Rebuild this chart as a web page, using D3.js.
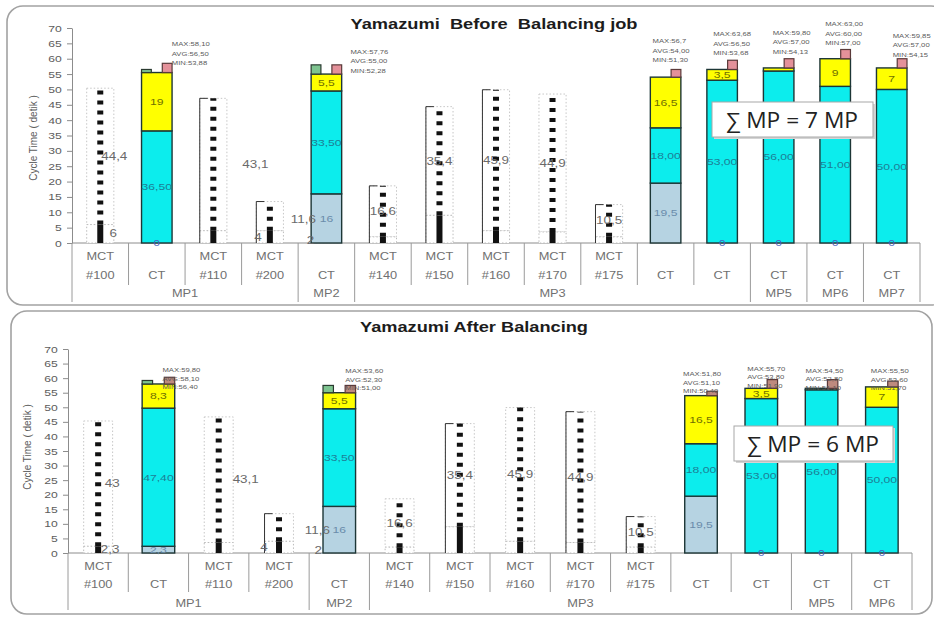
<!DOCTYPE html>
<html>
<head>
<meta charset="utf-8">
<script src="https://cdn.jsdelivr.net/npm/d3@7"></script>
<style>
  body { margin: 0; background: #fff; }
  svg { display: block; }
</style>
</head>
<body>
<svg id="chart" width="934" height="617"></svg>
<script>
// ---------- Before balancing ----------
const beforeTitle = "Yamazumi  Before  Balancing job";
const beforeRow1 = ["MCT", "", "MCT", "MCT", "", "MCT", "MCT", "MCT", "MCT", "MCT", "", "", "", "", ""];
const beforeRow2 = ["#100", "CT", "#110", "#200", "CT", "#140", "#150", "#160", "#170", "#175", "CT", "CT", "CT", "CT", "CT"];
const beforeGroups = ["MP1", "MP2", "MP3", "MP5", "MP6", "MP7"];
const beforeGroupSpans = [4, 1, 7, 1, 1, 1];
const beforeMctLow  = [6, 0, 4, 4, 2, 2, 9, 4, 3.6, 2, 0, 0, 0, 0, 0];
const beforeMctHigh = [44.4, 0, 43.1, 9.5, 11.6, 16.6, 35.4, 45.9, 44.9, 10.5, 0, 0, 0, 0, 0];
const beforeCtBase  = [0, 0, 0, 0, 16, 0, 0, 0, 0, 0, 19.5, 0, 0, 0, 0];
const beforeCtMain  = [0, 36.5, 0, 0, 33.5, 0, 0, 0, 0, 0, 18, 53, 56, 51, 50];
const beforeCtExtra = [0, 19, 0, 0, 5.5, 0, 0, 0, 0, 0, 16.5, 3.5, 1, 9, 7];
const beforeCapGreen = [0, 1, 0, 0, 3, 0, 0, 0, 0, 0, 0, 0, 0, 0, 0];
const beforeCapPink  = [0, 3, 0, 0, 3, 0, 0, 0, 0, 0, 2.5, 3, 3, 3, 3];
const beforeNotes = [null, ["MAX:58,10", "AVG:56,50", "MIN:53,88"], null, null,
  ["MAX:57,76", "AVG:55,00", "MIN:52,28"], null, null, null, null, null,
  ["MAX:56,7", "AVG:54,00", "MIN:51,30"], ["MAX:63,68", "AVG:56,50", "MIN:53,68"],
  ["MAX:59,80", "AVG:57,00", "MIN:54,13"], ["MAX:63,00", "AVG:60,00", "MIN:57,00"],
  ["MAX:59,85", "AVG:57,00", "MIN:54,15"]];
const beforeTotal = "∑ MP = 7 MP";

// ---------- After balancing ----------
const afterTitle = "Yamazumi After Balancing";
const afterRow1 = ["MCT", "", "MCT", "MCT", "", "MCT", "MCT", "MCT", "MCT", "MCT", "", "", "", ""];
const afterRow2 = ["#100", "CT", "#110", "#200", "CT", "#140", "#150", "#160", "#170", "#175", "CT", "CT", "CT", "CT"];
const afterGroups = ["MP1", "MP2", "MP3", "MP5", "MP6"];
const afterGroupSpans = [4, 1, 7, 1, 1];
const afterMctLow  = [2.3, 0, 3.6, 4, 2, 2, 9, 4, 3.6, 2, 0, 0, 0, 0];
const afterMctHigh = [43, 0, 43.1, 9.5, 11.6, 16.6, 35.4, 45.9, 44.9, 10.5, 0, 0, 0, 0];
const afterCtBase  = [0, 2.3, 0, 0, 16, 0, 0, 0, 0, 0, 19.5, 0, 0, 0];
const afterCtMain  = [0, 47.4, 0, 0, 33.5, 0, 0, 0, 0, 0, 18, 53, 56, 50];
const afterCtExtra = [0, 8.3, 0, 0, 5.5, 0, 0, 0, 0, 0, 16.5, 3.5, 0.5, 7];
const afterCapGreen = [0, 1.2, 0, 0, 2.5, 0, 0, 0, 0, 0, 0, 0, 0, 0];
const afterCapPink  = [0, 2.3, 0, 0, 2.5, 0, 0, 0, 0, 0, 1.5, 3, 3, 2];
const afterNotes = [null, ["MAX:59,80", "AVG:58,10", "MIN:56,40"], null, null,
  ["MAX:53,60", "AVG:52,30", "MIN:51,00"], null, null, null, null, null,
  ["MAX:51,80", "AVG:51,10", "MIN:50,40"], ["MAX:55,70", "AVG:53,80", "MIN:51,90"],
  ["MAX:54,50", "AVG:52,80", "MIN:51,10"], ["MAX:55,50", "AVG:53,60", "MIN:51,70"]];
const afterTotal = "∑ MP = 6 MP";

// ---------- layout (pixels) ----------
const beforeLayout = {
  frame: [7, 6, 940, 299], xRange: [72, 920], yRange: [243, 28],
  titlePos: [494, 29], titleWidth: 287, axisTitle: [33, 138],
  rows: [256, 275, 293], catEnd: 285, groupEnd: 302,
  lowDx:  [13, null, null, -12, -16, null, null, null, null, null, null, null, null, null, null],
  highDx: [14, null, 42, null, -23, 0, 0, 0, 0, 0, null, null, null, null, null],
  edge:   [0, 0, 1, 1, 0, 1, 1, 1, 0, 1, 0, 0, 0, 0, 0],
  noteOff: [null, [15, 2], null, null, [24, 8], null, null, null, null, null, [-13, -7], [-9, -5], [-6, -5], [-10, -4.5], [1, -2]],
  noteGap: 9.5, pink: "#E4919A", box: [712, 102, 161, 35], boxText: [792, 128]
};
const afterLayout = {
  frame: [11, 311, 921, 303], xRange: [68, 912], yRange: [553, 349],
  titlePos: [474, 332], titleWidth: 228, axisTitle: [27, 447],
  rows: [566, 584, 603], catEnd: 592, groupEnd: 610,
  lowDx:  [12, null, null, -15, -21, null, null, null, null, null, null, null, null, null],
  highDx: [14, null, 27, null, -22, 0, 0, 0, 0, 0, null, null, null, null],
  edge:   [0, 0, 0, 1, 0, 0, 1, 0, 1, 1, 0, 0, 0, 0],
  noteOff: [null, [4, 12], null, null, [6, 5], null, null, null, null, null, [-18, 2], [-14, 8], [-16, 10], [-11, 9]],
  noteGap: 8.5, pink: "#BE8A7E", box: [734, 426, 159, 35], boxText: [813, 452]
};

const SX = 1.28;  // horizontal stretch applied to the text glyphs
const FONT = "'Liberation Sans', Arial, sans-serif";
const svg = d3.select("#chart");
const comma = v => String(v).replace(".", ",");
const comma2 = v => d3.format(".2f")(v).replace(".", ",");

function put(g, x, y, str, o = {}) {
  return g.append("text")
    .attr("transform", `translate(${x},${y}) scale(${SX},1)`)
    .attr("text-anchor", o.anchor || "middle")
    .attr("dy", o.dy == null ? "0.35em" : o.dy)
    .attr("font-family", FONT)
    .attr("font-size", o.size || 10)
    .attr("fill", o.fill || "#676767")
    .text(str);
}

function drawPanel(p, L) {
  const n = p.row2.length;
  const x = d3.scaleBand().domain(d3.range(n)).range(L.xRange);
  const y = d3.scaleLinear().domain([0, 70]).range(L.yRange);
  const bw = x.bandwidth();
  const cx = i => x(i) + bw / 2;
  const ex = i => (i < n ? x(i) : L.xRange[1]);
  const g = svg.append("g");

  // rounded frame
  g.append("rect").attr("x", L.frame[0]).attr("y", L.frame[1])
    .attr("width", L.frame[2]).attr("height", L.frame[3]).attr("rx", 16)
    .attr("fill", "#fff").attr("stroke", "#a2a2a2").attr("stroke-width", 1.6);

  // title
  g.append("text").attr("x", L.titlePos[0]).attr("y", L.titlePos[1])
    .attr("text-anchor", "middle").attr("font-family", FONT).attr("font-weight", "bold")
    .attr("font-size", 14).attr("fill", "#1c1c1c")
    .attr("textLength", L.titleWidth).attr("lengthAdjust", "spacingAndGlyphs")
    .style("white-space", "pre").text(p.title);

  // y axis
  const ag = g.append("g").attr("transform", `translate(${L.xRange[0]},0)`)
    .call(d3.axisLeft(y).tickValues(d3.range(0, 71, 5)).tickSize(5).tickSizeOuter(0).tickPadding(3));
  ag.select(".domain").attr("stroke", "#8c8c8c");
  ag.selectAll(".tick line").attr("stroke", "#8c8c8c");
  ag.selectAll(".tick text").attr("font-family", FONT).attr("font-size", 9.5)
    .attr("fill", "#5c5c5c").attr("transform", `scale(${SX},1)`);
  g.append("text")
    .attr("transform", `translate(${L.axisTitle[0]},${L.axisTitle[1]}) rotate(-90)`)
    .attr("text-anchor", "middle").attr("dy", "0.35em").attr("font-family", FONT)
    .attr("font-size", 10).attr("fill", "#5c5c5c").text("Cycle Time ( detik )");

  // category axis: baseline, dividers, labels
  g.append("line").attr("x1", L.xRange[0]).attr("x2", L.xRange[1])
    .attr("y1", y(0)).attr("y2", y(0)).attr("stroke", "#8c8c8c");
  const groupEdges = [0];
  p.spans.forEach(s => groupEdges.push(groupEdges[groupEdges.length - 1] + s));
  d3.range(1, n).filter(i => !groupEdges.includes(i)).forEach(i => {
    g.append("line").attr("x1", ex(i)).attr("x2", ex(i)).attr("y1", y(0)).attr("y2", L.catEnd)
      .attr("stroke", "#9a9a9a");
  });
  groupEdges.forEach(i => {
    g.append("line").attr("x1", ex(i)).attr("x2", ex(i)).attr("y1", y(0)).attr("y2", L.groupEnd)
      .attr("stroke", "#9a9a9a");
  });
  d3.range(n).forEach(i => {
    if (p.row1[i]) put(g, cx(i), L.rows[0], p.row1[i], { fill: "#707070" });
    put(g, cx(i), L.rows[1], p.row2[i], { fill: "#707070" });
  });
  p.groups.forEach((name, k) => {
    put(g, (ex(groupEdges[k]) + ex(groupEdges[k + 1])) / 2, L.rows[2], name, { fill: "#707070" });
  });

  // machine cycle time columns
  const mw = bw * 0.48;
  const mctIdx = d3.range(n).filter(i => p.mctLow[i] + p.mctHigh[i] > 0);
  mctIdx.forEach(i => {
    const lo = p.mctLow[i], hi = lo + p.mctHigh[i];
    const x0 = cx(i) - mw / 2;
    g.append("rect").attr("x", x0).attr("y", y(hi)).attr("width", mw).attr("height", y(lo) - y(hi))
      .attr("fill", "#fff").attr("stroke", "#c6c6c6").attr("stroke-dasharray", "1.5 2");
    g.append("rect").attr("x", x0).attr("y", y(lo)).attr("width", mw).attr("height", y(0) - y(lo))
      .attr("fill", "#fff").attr("stroke", "#bcbcbc").attr("stroke-dasharray", "1.5 2");
    if (L.edge[i]) {
      g.append("path").attr("d", `M${x0},${y(0)}V${y(hi)}H${x0 + 8}`)
        .attr("fill", "none").attr("stroke", "#333").attr("stroke-width", 1);
    }
    g.append("line").attr("x1", cx(i)).attr("x2", cx(i)).attr("y1", y(lo)).attr("y2", y(hi))
      .attr("stroke", "#111").attr("stroke-width", 6).attr("stroke-dasharray", "4 6");
    g.append("line").attr("x1", cx(i)).attr("x2", cx(i)).attr("y1", y(0)).attr("y2", y(lo))
      .attr("stroke", "#111").attr("stroke-width", 6);
  });

  // operator cycle time stacks
  const cw = bw * 0.54;
  const capW = cw * 0.32;
  const ctIdx = d3.range(n).filter(i => p.ctMain[i] > 0);
  const tops = {};
  ctIdx.forEach(i => {
    const x0 = cx(i) - cw / 2;
    const segs = [[p.ctBase[i], "#B6D3E2"], [p.ctMain[i], "#0CEDED"], [p.ctExtra[i], "#FFFF00"]];
    let acc = 0;
    segs.forEach(([v, c]) => {
      if (v > 0) {
        g.append("rect").attr("x", x0).attr("y", y(acc + v)).attr("width", cw)
          .attr("height", y(acc) - y(acc + v)).attr("fill", c)
          .attr("stroke", "#1d3636").attr("stroke-width", 1.4);
      }
      acc += v;
    });
    let top = acc;
    if (p.capGreen[i] > 0) {
      g.append("rect").attr("x", x0).attr("y", y(acc + p.capGreen[i])).attr("width", capW)
        .attr("height", y(acc) - y(acc + p.capGreen[i])).attr("fill", "#7EC490")
        .attr("stroke", "#2a3a30").attr("stroke-width", 1.2);
      top = Math.max(top, acc + p.capGreen[i]);
    }
    if (p.capPink[i] > 0) {
      g.append("rect").attr("x", x0 + cw - capW).attr("y", y(acc + p.capPink[i])).attr("width", capW)
        .attr("height", y(acc) - y(acc + p.capPink[i])).attr("fill", L.pink)
        .attr("stroke", "#5a3a3a").attr("stroke-width", 1.2);
      top = Math.max(top, acc + p.capPink[i]);
    }
    tops[i] = top;
  });

  // value labels of the machine columns
  mctIdx.forEach(i => {
    const lo = p.mctLow[i], hi = p.mctHigh[i];
    if (L.lowDx[i] != null) put(g, cx(i) + L.lowDx[i], y(lo / 2), comma(lo), { size: 10.5, fill: "#6a6a6a" });
    if (L.highDx[i] != null) put(g, cx(i) + L.highDx[i], y(lo + hi / 2), comma(hi), { size: 10.5, fill: "#6a6a6a" });
  });

  // value labels of the stacks
  ctIdx.forEach(i => {
    const b = p.ctBase[i], m = p.ctMain[i], e = p.ctExtra[i];
    if (b > 0) put(g, cx(i), y(b / 2), comma(b), { size: 9.5, fill: "#6a8cab" });
    else put(g, cx(i), y(0), "0", { size: 9, fill: "#4a62c0" });
    put(g, cx(i), y(b + m / 2), comma2(m), { size: 9.5, fill: "#1d7f96" });
    if (e >= 2) put(g, cx(i), y(b + m + e / 2), comma(e), { size: 9.5, fill: "#707000" });
  });

  // MAX / AVG / MIN notes
  ctIdx.forEach(i => {
    const lines = p.notes[i];
    if (!lines) return;
    const [dx, dy] = L.noteOff[i];
    const last = y(tops[i]) + dy;
    lines.forEach((s, k) => {
      put(g, cx(i) + dx, last - (lines.length - 1 - k) * L.noteGap, s,
        { anchor: "start", dy: 0, size: 6, fill: "#5a5a5a" });
    });
  });

  // manpower total box
  const [bx, by, bwid, bh] = L.box;
  g.append("rect").attr("x", bx + 2).attr("y", by + 2).attr("width", bwid).attr("height", bh)
    .attr("fill", "#d4d4d4");
  g.append("rect").attr("x", bx).attr("y", by).attr("width", bwid).attr("height", bh)
    .attr("fill", "#fff").attr("stroke", "#a8a8a8").attr("stroke-width", 1);
  g.append("text").attr("x", L.boxText[0]).attr("y", L.boxText[1]).attr("text-anchor", "middle")
    .attr("font-family", "'Open Sans', 'Noto Sans', sans-serif").attr("font-size", 21)
    .attr("fill", "#222").attr("textLength", 132).attr("lengthAdjust", "spacingAndGlyphs")
    .text(p.total);
}

drawPanel({
  title: beforeTitle, row1: beforeRow1, row2: beforeRow2, groups: beforeGroups, spans: beforeGroupSpans,
  mctLow: beforeMctLow, mctHigh: beforeMctHigh, ctBase: beforeCtBase, ctMain: beforeCtMain,
  ctExtra: beforeCtExtra, capGreen: beforeCapGreen, capPink: beforeCapPink,
  notes: beforeNotes, total: beforeTotal
}, beforeLayout);

drawPanel({
  title: afterTitle, row1: afterRow1, row2: afterRow2, groups: afterGroups, spans: afterGroupSpans,
  mctLow: afterMctLow, mctHigh: afterMctHigh, ctBase: afterCtBase, ctMain: afterCtMain,
  ctExtra: afterCtExtra, capGreen: afterCapGreen, capPink: afterCapPink,
  notes: afterNotes, total: afterTotal
}, afterLayout);
</script>
</body>
</html>
